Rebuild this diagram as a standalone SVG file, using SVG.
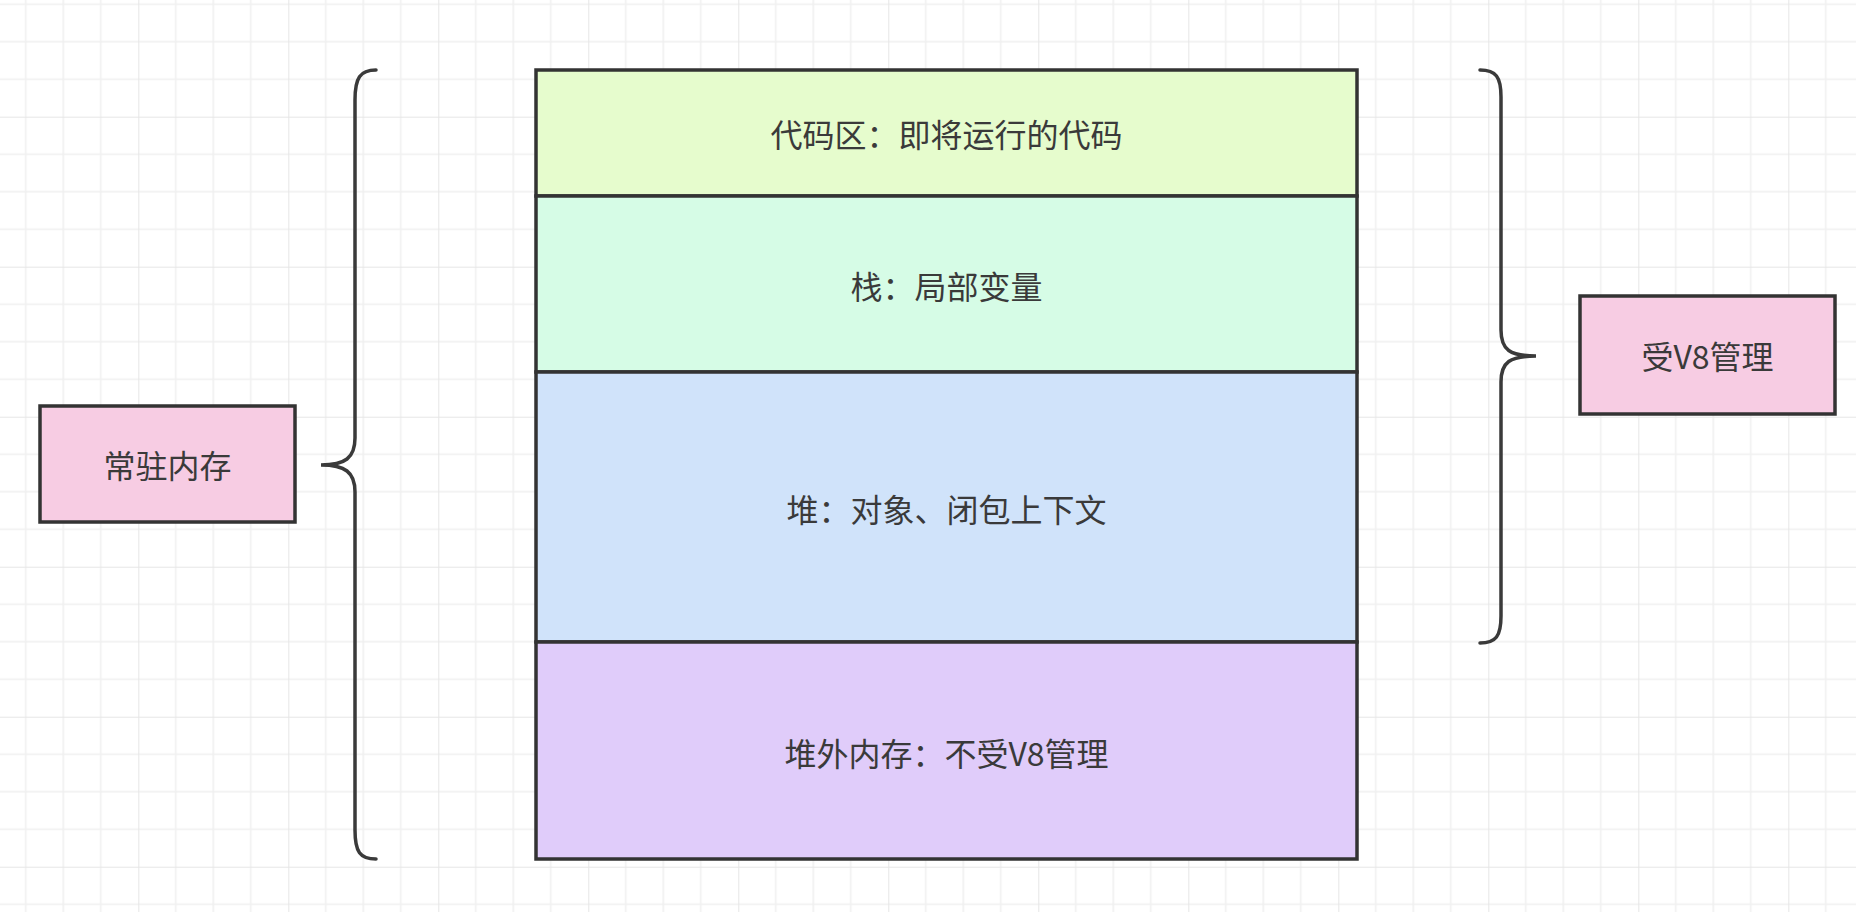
<svg xmlns="http://www.w3.org/2000/svg" width="1856" height="912" viewBox="0 0 1856 912">
<style>
.box{stroke:#333333;stroke-width:3.5}
.lbl{font-family:"Noto Sans CJK SC","Noto Sans",sans-serif;font-size:32px;fill:#3a3a3a;text-anchor:middle;dominant-baseline:central}
.brace{fill:none;stroke:#3a3a3a;stroke-width:3.5;stroke-linecap:round}
</style>
<defs>
<pattern id="grid" patternUnits="userSpaceOnUse" x="138.3" y="116.7" width="150" height="150">
<path d="M37.5,0V150M75,0V150M112.5,0V150M0,37.5H150M0,75H150M0,112.5H150" stroke="#f0f0f0" stroke-width="1.5" fill="none"/>
<path d="M0,0V150M0,0H150" stroke="#e6e6e6" stroke-width="2" fill="none"/>
</pattern>
</defs>
<rect width="1856" height="912" fill="#ffffff"/>
<rect width="1856" height="912" fill="url(#grid)"/>
<g id="memory">
<g id="code"><rect class="box" x="536" y="70" width="821" height="126" fill="#E6FCCD"/><text class="lbl" x="946.5" y="133">代码区：即将运行的代码</text></g>
<g id="stack"><rect class="box" x="536" y="196" width="821" height="176" fill="#D6FCE6"/><text class="lbl" x="946.5" y="285">栈：局部变量</text></g>
<g id="heap"><rect class="box" x="536" y="372" width="821" height="270" fill="#D0E3FA"/><text class="lbl" x="946.5" y="508">堆：对象、闭包上下文</text></g>
<g id="offheap"><rect class="box" x="536" y="642" width="821" height="217" fill="#E0CCFA"/><text class="lbl" x="946.5" y="752">堆外内存：不受V8管理</text></g>
</g>
<g id="resident"><rect class="box" x="40" y="406" width="255" height="116" fill="#F7CCE3"/><text class="lbl" x="167.5" y="464">常驻内存</text></g>
<g id="managed"><rect class="box" x="1580" y="296" width="255" height="118" fill="#F7CCE3"/><text class="lbl" x="1707.5" y="355">受V8管理</text></g>
<g id="connectors">
<path class="brace" d="M376,70 C360,70 355,78 355,100 L355,438 C355,458 345,465 321,465 C345,465 355,472 355,492 L355,830 C355,852 360,859 376,859"/>
<path class="brace" d="M1480,70 C1496,70 1501,77 1501,97 L1501,330 C1501,350 1510,356 1536,356 C1510,356 1501,362 1501,382 L1501,616 C1501,636 1496,643 1480,643"/>
</g>
</svg>
